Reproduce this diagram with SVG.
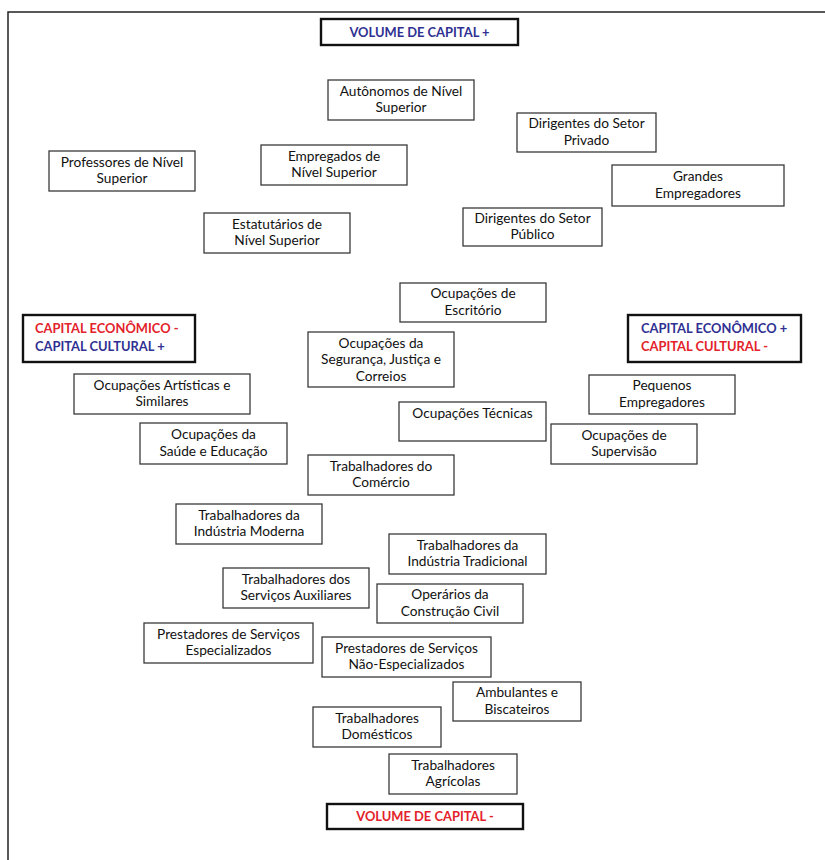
<svg xmlns="http://www.w3.org/2000/svg" width="825" height="860" viewBox="0 0 825 860">
<style>
  .bg { fill: #ffffff; }
  .frame { fill: none; stroke: #222; stroke-width: 1.5; }
  .box { fill: #ffffff; stroke: #3a3a3a; stroke-width: 1.3; }
  .key { fill: #ffffff; stroke: #111; stroke-width: 2.4; }
  .t { font-family: Lato, "Liberation Sans", sans-serif; font-size: 13.7px; fill: #111; text-anchor: middle; }
  .k { font-family: Lato, "Liberation Sans", sans-serif; font-size: 12.9px; font-weight: bold; }
  .blue { fill: #2f3192; }
  .red { fill: #e3222b; }
</style>
<rect class="bg" x="0" y="0" width="825" height="860"/>
<rect class="frame" x="8" y="12" width="830" height="860"/>

<g id="connectors"></g>

<g id="vol_plus">
  <rect class="key" x="321" y="19" width="197" height="26"/>
  <text class="k blue" x="419.5" y="36.5" text-anchor="middle">VOLUME DE CAPITAL +</text>
</g>
<g id="autonomos">
  <rect class="box" x="328" y="80" width="146" height="40"/>
  <text class="t" x="401" y="95.8"><tspan x="401">Autônomos de Nível</tspan><tspan x="401" dy="16.5">Superior</tspan></text>
</g>
<g id="dirigentes_privado">
  <rect class="box" x="517" y="113" width="139" height="39"/>
  <text class="t" x="586.5" y="128.3"><tspan x="586.5">Dirigentes do Setor</tspan><tspan x="586.5" dy="16.5">Privado</tspan></text>
</g>
<g id="professores">
  <rect class="box" x="49" y="151" width="146" height="40"/>
  <text class="t" x="122" y="166.8"><tspan x="122">Professores de Nível</tspan><tspan x="122" dy="16.5">Superior</tspan></text>
</g>
<g id="empregados">
  <rect class="box" x="261" y="145" width="146" height="40"/>
  <text class="t" x="334" y="160.8"><tspan x="334">Empregados de</tspan><tspan x="334" dy="16.5">Nível Superior</tspan></text>
</g>
<g id="grandes">
  <rect class="box" x="612" y="165" width="172" height="41"/>
  <text class="t" x="698" y="181.3"><tspan x="698">Grandes</tspan><tspan x="698" dy="16.5">Empregadores</tspan></text>
</g>
<g id="estatutarios">
  <rect class="box" x="204" y="213" width="146" height="40"/>
  <text class="t" x="277" y="228.8"><tspan x="277">Estatutários de</tspan><tspan x="277" dy="16.5">Nível Superior</tspan></text>
</g>
<g id="dirigentes_publico">
  <rect class="box" x="463" y="208" width="139" height="38"/>
  <text class="t" x="532.5" y="222.8"><tspan x="532.5">Dirigentes do Setor</tspan><tspan x="532.5" dy="16.5">Público</tspan></text>
</g>
<g id="escritorio">
  <rect class="box" x="400" y="283" width="146" height="39"/>
  <text class="t" x="473" y="298.3"><tspan x="473">Ocupações de</tspan><tspan x="473" dy="16.5">Escritório</tspan></text>
</g>
<g id="cap_eco_minus">
  <rect class="key" x="23" y="315" width="172" height="47"/>
  <text class="k red" x="35" y="333">CAPITAL ECONÔMICO -</text>
  <text class="k blue" x="35" y="350.5">CAPITAL CULTURAL +</text>
</g>
<g id="seguranca">
  <rect class="box" x="308" y="332" width="146" height="55"/>
  <text class="t" x="381" y="348"><tspan x="381">Ocupações da</tspan><tspan x="381" dy="16.3">Segurança, Justiça e</tspan><tspan x="381" dy="16.3">Correios</tspan></text>
</g>
<g id="cap_eco_plus">
  <rect class="key" x="628" y="315" width="173" height="47"/>
  <text class="k blue" x="641" y="333">CAPITAL ECONÔMICO +</text>
  <text class="k red" x="641" y="350.5">CAPITAL CULTURAL -</text>
</g>
<g id="artisticas">
  <rect class="box" x="74" y="374" width="176" height="40"/>
  <text class="t" x="162" y="389.8"><tspan x="162">Ocupações Artísticas e</tspan><tspan x="162" dy="16.5">Similares</tspan></text>
</g>
<g id="pequenos">
  <rect class="box" x="589" y="375" width="146" height="39"/>
  <text class="t" x="662" y="390.3"><tspan x="662">Pequenos</tspan><tspan x="662" dy="16.5">Empregadores</tspan></text>
</g>
<g id="tecnicas">
  <rect class="box" x="399" y="402" width="147" height="39"/>
  <text class="t" x="472.5" y="418">Ocupações Técnicas</text>
</g>
<g id="saude">
  <rect class="box" x="140" y="423" width="147" height="41"/>
  <text class="t" x="213.5" y="439.3"><tspan x="213.5">Ocupações da</tspan><tspan x="213.5" dy="16.5">Saúde e Educação</tspan></text>
</g>
<g id="supervisao">
  <rect class="box" x="551" y="424" width="146" height="40"/>
  <text class="t" x="624" y="439.8"><tspan x="624">Ocupações de</tspan><tspan x="624" dy="16.5">Supervisão</tspan></text>
</g>
<g id="comercio">
  <rect class="box" x="308" y="455" width="146" height="40"/>
  <text class="t" x="381" y="470.8"><tspan x="381">Trabalhadores do</tspan><tspan x="381" dy="16.5">Comércio</tspan></text>
</g>
<g id="industria_moderna">
  <rect class="box" x="176" y="504" width="146" height="40"/>
  <text class="t" x="249" y="519.8"><tspan x="249">Trabalhadores da</tspan><tspan x="249" dy="16.5">Indústria Moderna</tspan></text>
</g>
<g id="industria_tradicional">
  <rect class="box" x="389" y="534" width="157" height="40"/>
  <text class="t" x="467.5" y="549.8"><tspan x="467.5">Trabalhadores da</tspan><tspan x="467.5" dy="16.5">Indústria Tradicional</tspan></text>
</g>
<g id="servicos_auxiliares">
  <rect class="box" x="223" y="568" width="146" height="40"/>
  <text class="t" x="296" y="583.8"><tspan x="296">Trabalhadores dos</tspan><tspan x="296" dy="16.5">Serviços Auxiliares</tspan></text>
</g>
<g id="construcao">
  <rect class="box" x="377" y="584" width="146" height="39"/>
  <text class="t" x="450" y="599.3"><tspan x="450">Operários da</tspan><tspan x="450" dy="16.5">Construção Civil</tspan></text>
</g>
<g id="prestadores_esp">
  <rect class="box" x="144" y="623" width="169" height="40"/>
  <text class="t" x="228.5" y="638.8"><tspan x="228.5">Prestadores de Serviços</tspan><tspan x="228.5" dy="16.5">Especializados</tspan></text>
</g>
<g id="prestadores_nao">
  <rect class="box" x="322" y="637" width="169" height="40"/>
  <text class="t" x="406.5" y="652.8"><tspan x="406.5">Prestadores de Serviços</tspan><tspan x="406.5" dy="16.5">Não-Especializados</tspan></text>
</g>
<g id="ambulantes">
  <rect class="box" x="453" y="682" width="128" height="39"/>
  <text class="t" x="517" y="697.3"><tspan x="517">Ambulantes e</tspan><tspan x="517" dy="16.5">Biscateiros</tspan></text>
</g>
<g id="domesticos">
  <rect class="box" x="313" y="707" width="128" height="40"/>
  <text class="t" x="377" y="722.8"><tspan x="377">Trabalhadores</tspan><tspan x="377" dy="16.5">Domésticos</tspan></text>
</g>
<g id="agricolas">
  <rect class="box" x="389" y="754" width="128" height="40"/>
  <text class="t" x="453" y="769.8"><tspan x="453">Trabalhadores</tspan><tspan x="453" dy="16.5">Agrícolas</tspan></text>
</g>
<g id="vol_minus">
  <rect class="key" x="327" y="804" width="196" height="25"/>
  <text class="k red" x="425" y="821" text-anchor="middle">VOLUME DE CAPITAL -</text>
</g>
</svg>
